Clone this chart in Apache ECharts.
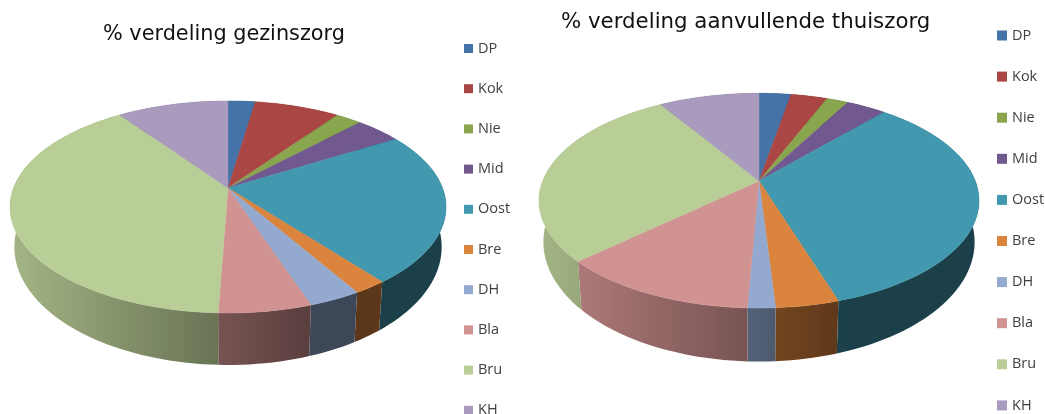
<!DOCTYPE html>
<html>
<head>
<meta charset="utf-8">
<style>html,body{margin:0;padding:0;background:#fff}#chart{width:1045px;height:414px}</style>
<script src="https://cdn.jsdelivr.net/npm/echarts@6/dist/echarts.min.js"></script>
</head>
<body>
<div id="chart"></div>
<script>
const categories = ["DP", "Kok", "Nie", "Mid", "Oost", "Bre", "DH", "Bla", "Bru", "KH"];
const gezinszorg = [2.4, 7.5, 2.3, 4.1, 23.1, 2.1, 3.3, 5.8, 39.6, 9.8];
const thuiszorg = [2.8, 3.2, 1.9, 3.5, 33.7, 3.9, 1.7, 12.4, 28.1, 8.8];
const colors = ["#4572A7", "#AA4643", "#89A54E", "#71588F", "#4198AF", "#DB843D", "#93A9CF", "#D19392", "#B9CD96", "#A99BBD"];

// the perspective of each disc: a tilts the circle, b and c scale it, apex is the projected centre
const leftPie = { cx: 228, apexY: 188, a: 0.179, b: 102.6, c: 214.5, depth: 52 };
const rightPie = { cx: 759, apexY: 181, a: 0.183, b: 103.8, c: 216.3, depth: 53.5 };

const project = (pie, pct) => {
  const t = pct / 100 * Math.PI * 2;
  const u = Math.sin(t);
  const v = -Math.cos(t);
  const w = 1 - pie.a * v;
  return [pie.cx + pie.c * u / w, pie.apexY + pie.b * v / w];
};

const arc = (pie, from, to) => {
  const steps = Math.max(2, Math.ceil((to - from) / 0.5));
  const pts = [];
  for (let i = 0; i <= steps; i++) pts.push(project(pie, from + (to - from) * i / steps));
  return pts;
};

const shade = (hex, f) => {
  const n = parseInt(hex.slice(1), 16);
  return `rgb(${Math.round((n >> 16) * f)},${Math.round(((n >> 8) & 255) * f)},${Math.round((n & 255) * f)})`;
};

const sliceSeries = (pie, values) => {
  const frontY = pie.apexY + pie.b / (1 - pie.a);
  let sum = 0;
  return values.map((value, i) => {
    const start = sum;
    sum += value;
    return {
      type: "custom",
      name: categories[i],
      coordinateSystem: "none",
      silent: true,
      animation: false,
      itemStyle: { color: colors[i] },
      data: [[start, sum]],
      renderItem: (params, api) => {
        const edge = arc(pie, api.value(0), api.value(1));
        // the floor of the disc is a little narrower and rounder than its top
        const floor = edge
          .map(p => [pie.cx + (p[0] - pie.cx) * 0.98, frontY + pie.depth + (p[1] - frontY) * 1.113])
          .reverse();
        const wallFill = new echarts.graphic.LinearGradient(
          pie.cx - pie.c, 0, pie.cx + pie.c * 0.4, 0,
          [{ offset: 0, color: shade(colors[i], 0.88) }, { offset: 1, color: shade(colors[i], 0.42) }],
          true
        );
        return {
          type: "group",
          children: [
            {
              type: "polygon",
              z2: 1,
              shape: { points: edge.concat(floor) },
              style: { fill: wallFill, stroke: null }
            },
            {
              type: "polygon",
              z2: 10,
              shape: { points: [[pie.cx, pie.apexY]].concat(edge) },
              style: { fill: colors[i], stroke: colors[i], lineWidth: 0.5 }
            }
          ]
        };
      }
    };
  });
};

const legendBox = (left, top, gap, swatch) => ({
  data: categories,
  orient: "vertical",
  left,
  top,
  height: 600,
  padding: 0,
  itemWidth: swatch,
  itemHeight: swatch,
  itemGap: gap,
  icon: "rect",
  selectedMode: false,
  textStyle: { fontFamily: "Open Sans", fontSize: 14.5, lineHeight: 14, color: "#404040" }
});

const titleText = (text, left, top, size) => ({
  text,
  left,
  top,
  padding: 0,
  textStyle: { fontFamily: "DejaVu Sans", fontSize: size, fontWeight: "normal", color: "#111" }
});

const chart = echarts.init(document.getElementById("chart"), null, { renderer: "canvas" });
chart.setOption({
  animation: false,
  title: [
    titleText("% verdeling gezinszorg", 103, 24, 20.8),
    titleText("% verdeling aanvullende thuiszorg", 561, 12, 21.3)
  ],
  legend: [legendBox(464, 41, 25.2, 9), legendBox(997, 28, 26.1, 10)],
  series: sliceSeries(leftPie, gezinszorg).concat(sliceSeries(rightPie, thuiszorg))
});
</script>
</body>
</html>
